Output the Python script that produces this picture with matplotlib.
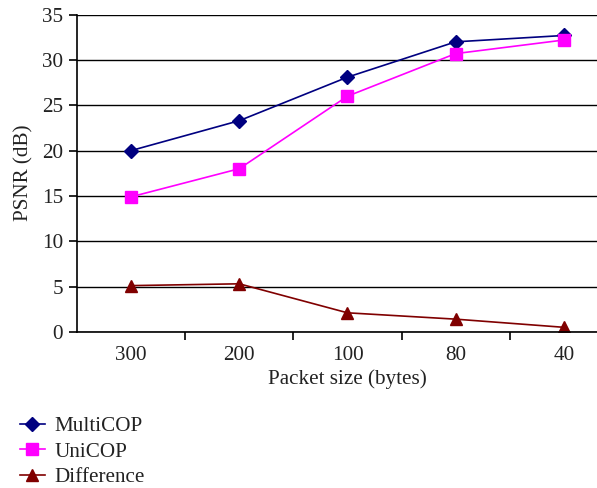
import matplotlib
matplotlib.use("Agg")
import matplotlib.pyplot as plt
import numpy as np

categories = ["300", "200", "100", "80", "40"]
multicop = [20.0, 23.3, 28.1, 32.0, 32.7]
unicop = [14.9, 18.0, 26.0, 30.7, 32.2]
difference = [5.1, 5.3, 2.1, 1.4, 0.5]

plt.rcParams["font.family"] = ["Liberation Serif", "DejaVu Serif"]
fs = 15.2

fig = plt.figure(figsize=(5.97, 4.88), dpi=100)
ax = fig.add_axes([0.129, 0.320, 0.906, 0.650])

x = np.arange(len(categories))
ax.plot(x, multicop, color="#000080", marker="D", markersize=7, lw=1.2, label="MultiCOP")
ax.plot(x, unicop, color="#FF00FF", marker="s", markersize=8, lw=1.2, label="UniCOP")
ax.plot(x, difference, color="#800000", marker="^", markersize=8, lw=1.2, label="Difference")

ax.set_xlim(-0.5, len(categories) - 0.5)
ax.set_ylim(0, 35)
ax.set_yticks(range(0, 36, 5))
ax.yaxis.grid(True, color="black", lw=1.0)
ax.set_axisbelow(True)

ax.set_xticks(x)
ax.set_xticklabels(categories)
ax.set_xticks(np.arange(0.5, len(categories) - 0.5, 1), minor=True)
ax.tick_params(axis="x", which="major", length=0, pad=10, labelsize=fs)
ax.tick_params(axis="x", which="minor", length=6, width=1.2, direction="out")
ax.tick_params(axis="y", length=6, width=1.2, direction="out", labelsize=fs, pad=4)
for lbl in ax.get_yticklabels() + ax.get_xticklabels():
    lbl.set_color("#222222")

for s in ["top", "right"]:
    ax.spines[s].set_visible(False)
ax.spines["left"].set_linewidth(1.2)
ax.spines["bottom"].set_linewidth(1.2)

ax.set_xlabel("Packet size (bytes)", fontsize=fs, color="#222222", labelpad=3)
ax.set_ylabel("PSNR (dB)", fontsize=fs, color="#222222", labelpad=6)

fig.legend(loc="upper left", bbox_to_anchor=(0.033, 0.147), frameon=False,
           fontsize=fs, handlelength=1.2, handletextpad=0.45, labelspacing=0.27,
           borderpad=0.0, borderaxespad=0.0, labelcolor="#222222")

fig.savefig("out.png", dpi=100)
